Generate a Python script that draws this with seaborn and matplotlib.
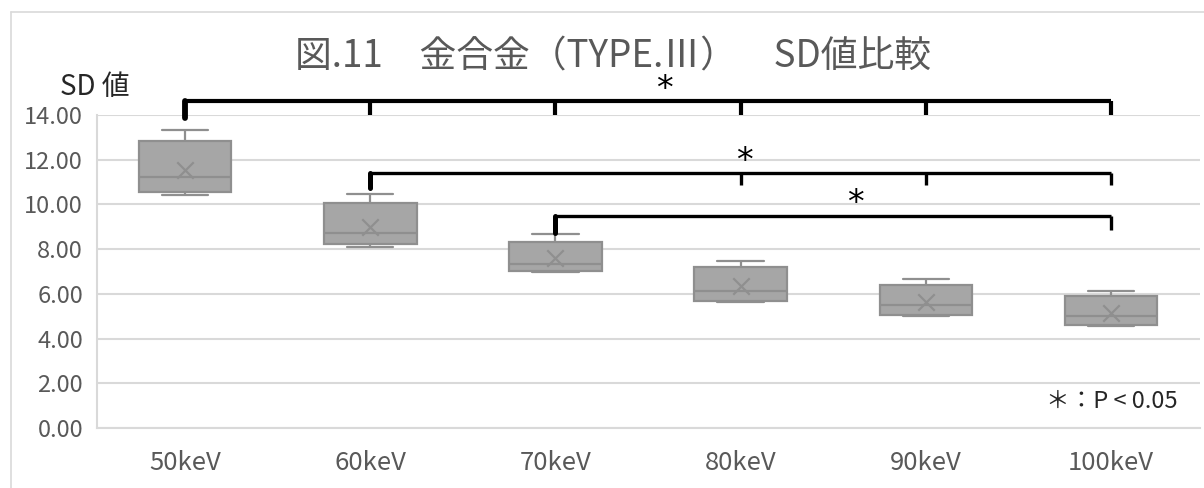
import pandas as pd
import matplotlib.pyplot as plt
from matplotlib.lines import Line2D
import seaborn as sns

# five-number summaries (min, q1, median, q3, max)
energies = ['50keV', '60keV', '70keV', '80keV', '90keV', '100keV']
sd_50 = [10.42, 10.55, 11.22, 12.84, 13.33]
sd_60 = [8.09, 8.23, 8.72, 10.06, 10.46]
sd_70 = [6.96, 7.02, 7.33, 8.33, 8.66]
sd_80 = [5.63, 5.69, 6.14, 7.19, 7.45]
sd_90 = [5.01, 5.05, 5.49, 6.41, 6.66]
sd_100 = [4.56, 4.62, 5.01, 5.90, 6.13]
sd_means = [11.55, 8.99, 7.60, 6.35, 5.62, 5.14]

# significance brackets: start, end, level, drop-down ticks, star position
bracket_start = [0, 1, 2]
bracket_end = [5, 5, 5]
bracket_y = [14.62, 11.40, 9.48]
bracket_drop = [14.0, 10.87, 8.85]
bracket_ticks = [[0, 1, 2, 3, 4, 5], [1, 3, 4, 5], [2, 5]]
star_x = [2.59, 3.02, 3.62]
star_y = [15.12, 11.92, 10.02]

groups = [sd_50, sd_60, sd_70, sd_80, sd_90, sd_100]
data = pd.DataFrame({
    'energy': [e for e, g in zip(energies, groups) for _ in g],
    'sd': [v for g in groups for v in g],
})

sns.set_style('white')
plt.rcParams['font.family'] = ['Noto Sans CJK JP', 'DejaVu Sans']

fig = plt.figure(figsize=(12.04, 4.88), dpi=100)
ax = fig.add_axes([97 / 1204, 1 - 428 / 488, (1200 - 97) / 1204, (428 - 115) / 488])

box_fill = '#a6a6a6'
box_edge = '#8f8f8f'
sns.boxplot(data=data, x='energy', y='sd', order=energies, ax=ax,
            color=box_fill, linecolor=box_edge, linewidth=1.6, width=0.5,
            whis=(0, 100), saturation=1, fliersize=0)
for p in ax.patches:
    p.set_facecolor(box_fill)
    p.set_edgecolor(box_edge)

sns.scatterplot(x=list(range(6)), y=sd_means, ax=ax, marker='x', s=140,
                color=box_edge, linewidth=1.6, zorder=5, legend=False)

ax.set_xlim(-0.475, 5.48)
ax.set_ylim(0, 14)
ax.set_yticks([0, 2, 4, 6, 8, 10, 12, 14])
ax.set_yticklabels([f'{v:.2f}' for v in ax.get_yticks()])
ax.yaxis.grid(True, color='#d9d9d9', linewidth=1.5)
ax.set_axisbelow(True)
ax.tick_params(axis='y', length=0, labelsize=17, labelcolor='#595959', pad=10)
ax.tick_params(axis='x', length=0, labelsize=18.5, labelcolor='#595959', pad=16)
ax.set_xlabel('')
ax.set_ylabel('')
for side in ['top', 'right']:
    ax.spines[side].set_visible(False)
ax.spines['left'].set_color('#d9d9d9')
ax.spines['bottom'].set_color('#d9d9d9')
ax.spines['left'].set_linewidth(1.5)
ax.spines['bottom'].set_linewidth(1.5)

# brackets
for i in range(3):
    lw = 3.0 if i == 0 else 2.4
    ax.plot([bracket_start[i], bracket_end[i]], [bracket_y[i], bracket_y[i]],
            color='black', lw=lw, clip_on=False, solid_capstyle='butt', zorder=6)
    for t in bracket_ticks[i]:
        bottom = bracket_drop[i]
        if t == bracket_start[i]:
            bottom -= 0.12
        ax.plot([t, t], [bracket_y[i], bottom], color='black',
                lw=lw + (1.2 if t == bracket_start[i] else 0), clip_on=False,
                solid_capstyle='round' if t == bracket_start[i] else 'butt', zorder=6)
    ax.text(star_x[i], star_y[i], '*', fontsize=24, ha='center', va='center',
            color='black', family=['DejaVu Sans'], clip_on=False)

ax.text(0.98, 0.085, '＊：P < 0.05', transform=ax.transAxes, ha='right',
        va='center', fontsize=17, color='#262626')

fig.text(613 / 1204, 1 - 57 / 488, '図.11　金合金（TYPE.Ⅲ）　SD値比較',
         ha='center', va='center', fontsize=26.5, color='#595959')
fig.text(60 / 1204, 1 - 87 / 488, 'SD 値', ha='left', va='center',
         fontsize=20, color='#262626')

# chart area border
fig.add_artist(Line2D([11 / 1204, 11 / 1204], [0, 1 - 12 / 488],
                      color='#d9d9d9', lw=1.2))
fig.add_artist(Line2D([11 / 1204, 1], [1 - 12 / 488, 1 - 12 / 488],
                      color='#d9d9d9', lw=1.2))

fig.savefig('out.png', dpi=100)
